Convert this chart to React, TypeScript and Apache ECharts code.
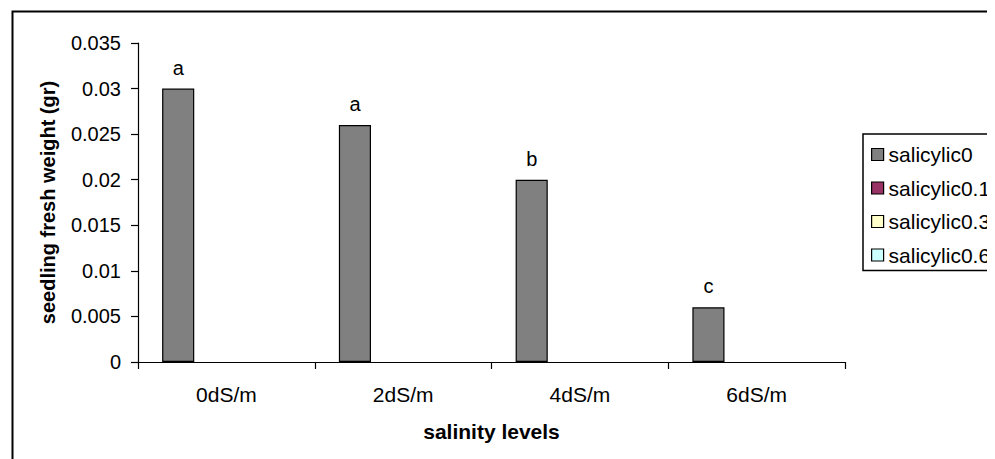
import React, { useEffect, useRef } from "react";
import * as echarts from "echarts";

const categories = ["0dS/m", "2dS/m", "4dS/m", "6dS/m"];
const seriesNames = ["salicylic0", "salicylic0.1", "salicylic0.3", "salicylic0.6"];
const salicylic0 = [0.03, 0.026, 0.02, 0.006];
const salicylic01 = [0, 0, 0, 0];
const salicylic03 = [0, 0, 0, 0];
const salicylic06 = [0, 0, 0, 0];
const letters = ["a", "a", "b", "c"];
const colors = ["#808080", "#993366", "#FFFFCC", "#CCFFFF"];

export default function App() {
  const ref = useRef<HTMLDivElement>(null);
  useEffect(() => {
    if (!ref.current) return;
    const chart = echarts.init(ref.current, undefined, { renderer: "svg" });
    const font = "'Liberation Sans', Arial, sans-serif";
    const values = [salicylic0, salicylic01, salicylic03, salicylic06];
    chart.setOption({
      animation: false,
      textStyle: { fontFamily: font, color: "#000" },
      graphic: [
        {
          type: "rect",
          left: 2,
          top: 1,
          shape: { x: 0, y: 0, width: 1200, height: 800 },
          style: { fill: "none", stroke: "#000", lineWidth: 2 },
          silent: true,
        },
      ],
      grid: { left: 130, top: 35, width: 707, height: 319, containLabel: false },
      legend: {
        orient: "vertical",
        left: 855,
        top: 126,
        data: seriesNames,
        backgroundColor: "#fff",
        borderColor: "#000",
        borderWidth: 1.5,
        borderRadius: 0,
        padding: [10, 20, 5, 8],
        itemWidth: 12,
        itemHeight: 12,
        itemGap: 12.5,
        icon: "rect",
        itemStyle: { borderColor: "#000", borderWidth: 1.2 },
        textStyle: { fontFamily: font, fontSize: 21, lineHeight: 21, color: "#000" },
      },
      xAxis: {
        type: "category",
        data: categories,
        name: "salinity levels",
        nameLocation: "middle",
        nameGap: 59,
        nameTextStyle: { fontFamily: font, fontSize: 21, fontWeight: "bold", color: "#000" },
        axisLine: { lineStyle: { color: "#000", width: 1.2 } },
        axisTick: { show: true, length: 7, lineStyle: { color: "#000", width: 1.2 } },
        axisLabel: { fontFamily: font, fontSize: 21, color: "#000", margin: 22 },
        splitLine: { show: false },
      },
      yAxis: {
        type: "value",
        min: 0,
        max: 0.035,
        interval: 0.005,
        name: "seedling fresh weight (gr)",
        nameLocation: "middle",
        nameGap: 80,
        nameTextStyle: { fontFamily: font, fontSize: 20, fontWeight: "bold", color: "#000" },
        axisLine: { show: true, lineStyle: { color: "#000", width: 1.2 } },
        axisTick: { show: true, length: 7, lineStyle: { color: "#000", width: 1.2 } },
        axisLabel: { fontFamily: font, fontSize: 20, color: "#000", margin: 17 },
        splitLine: { show: false },
      },
      series: seriesNames.map((name, i) => ({
        name,
        type: "bar",
        data: values[i],
        barGap: "0%",
        barCategoryGap: "27.3%",
        z: i === 0 ? 3 : 1,
        itemStyle: {
          color: colors[i],
          borderColor: "#000",
          borderWidth: i === 0 ? 1.2 : 0,
        },
        label:
          i === 0
            ? {
                show: true,
                position: "top",
                distance: 11,
                fontFamily: font,
                fontSize: 20,
                color: "#000",
                formatter: (p: any) => letters[p.dataIndex],
              }
            : { show: false },
      })),
    });
    return () => chart.dispose();
  }, []);
  return <div ref={ref} style={{ width: 987, height: 451 }} />;
}
